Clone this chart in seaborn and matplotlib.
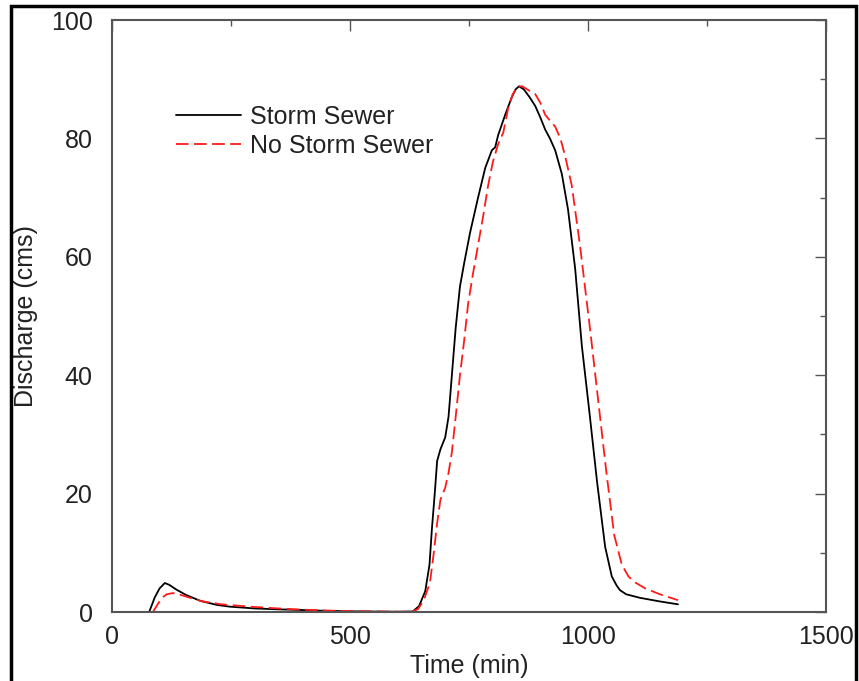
import pandas as pd
import matplotlib.pyplot as plt
import seaborn as sns
from matplotlib.patches import Rectangle
from matplotlib.ticker import MultipleLocator

# Storm Sewer hydrograph (time in min, discharge in cms)
storm_t = [78, 90, 100, 111, 120, 135, 155, 185, 220, 248, 300, 350, 395, 450, 500,
           550, 605, 632, 645, 658, 667, 672, 678, 683, 690, 700, 707, 714, 722, 731,
           740, 752, 769, 784, 798, 805, 811, 826, 840, 848, 855, 865, 877, 889, 900,
           910, 920, 931, 945, 958, 973, 987, 1004, 1019, 1036, 1050, 1060, 1067, 1080,
           1109, 1150, 1189]
storm_q = [0, 2.5, 4.0, 4.9, 4.6, 3.8, 2.9, 1.9, 1.2, 0.9, 0.6, 0.45, 0.35, 0.2, 0.12,
           0.08, 0.05, 0.1, 1.0, 3.5, 8, 14, 20, 25.5, 27.5, 29.5, 33, 40, 48, 55,
           59, 64, 70, 75, 78, 78.5, 80.5, 84, 87, 88.3, 88.8, 88.3, 87, 85.5, 83.5,
           81.5, 80, 78, 74, 68, 58, 45, 33, 22, 11, 6, 4.5, 3.7, 3.0,
           2.4, 1.8, 1.3]

# No Storm Sewer hydrograph
nostorm_t = [86, 95, 105, 115, 128, 140, 160, 190, 230, 290, 350, 400, 450, 500, 550,
             600, 630, 643, 655, 668, 676, 683, 690, 700, 707, 714, 722, 731, 740, 748,
             758, 769, 780, 790, 800, 811, 822, 832, 842, 853, 862, 868, 878, 889, 900,
             910, 920, 931, 942, 952, 966, 983, 1004, 1021, 1038, 1055, 1071, 1085, 1099,
             1120, 1151, 1189]
nostorm_q = [0, 1.2, 2.4, 3.0, 3.2, 3.0, 2.5, 1.8, 1.3, 0.9, 0.6, 0.4, 0.25, 0.15, 0.1,
             0.05, 0.05, 0.5, 2, 5, 10, 15, 19, 21, 23.5, 27, 33, 40, 46, 52,
             57, 62, 67, 72, 76, 79, 81, 85, 87.5, 88.8, 88.8, 88.5, 88, 87.5, 86,
             84, 83, 82, 80, 77, 72, 62, 48, 36, 24, 13, 8, 6, 5,
             4, 3, 2]

sns.set_style("white")
plt.rcParams['font.family'] = ['Liberation Sans', 'DejaVu Sans']

fig = plt.figure(figsize=(8.59, 6.81), dpi=100)
ax = fig.add_axes([0.1304, 0.1013, 0.8312, 0.8693])

storm_df = pd.DataFrame({'time': storm_t, 'q': storm_q})
nostorm_df = pd.DataFrame({'time': nostorm_t, 'q': nostorm_q})

sns.lineplot(data=storm_df, x='time', y='q', ax=ax, color='black', linewidth=1.3,
             label='Storm Sewer', sort=False)
sns.lineplot(data=nostorm_df, x='time', y='q', ax=ax, color='#ff1a1a', linewidth=1.3,
             dashes=False, label='No Storm Sewer', sort=False)
ax.lines[1].set_dashes((7, 3))

ax.set_xlim(0, 1500)
ax.set_ylim(0, 100)
ax.xaxis.set_major_locator(MultipleLocator(500))
ax.xaxis.set_minor_locator(MultipleLocator(250))
ax.yaxis.set_major_locator(MultipleLocator(20))
ax.yaxis.set_minor_locator(MultipleLocator(10))
ax.tick_params(which='both', direction='in', top=True, right=True,
               colors='#555555', labelcolor='#222222', labelsize=18)
ax.tick_params(which='major', length=8, width=1)
ax.tick_params(which='minor', length=4, width=1)
ax.tick_params(axis='y', which='major', pad=14)
ax.tick_params(axis='x', which='major', pad=9)
for s in ax.spines.values():
    s.set_color('#555555')
    s.set_linewidth(1.5)

ax.set_xlabel('Time (min)', fontsize=18, color='#222222', labelpad=4)
ax.set_ylabel('Discharge (cms)', fontsize=18, color='#222222', labelpad=9)

leg = ax.legend(loc='upper left', bbox_to_anchor=(0.058, 0.895), frameon=False,
                fontsize=18, handlelength=2.6, handletextpad=0.35, labelspacing=0.2)
for t in leg.get_texts():
    t.set_color('#222222')

# outer frame around the figure
fig.patches.append(Rectangle((0.0128, -0.05), 0.984, 1.041, transform=fig.transFigure,
                             fill=False, edgecolor='black', linewidth=2.5))

fig.savefig('out.png', dpi=100)
